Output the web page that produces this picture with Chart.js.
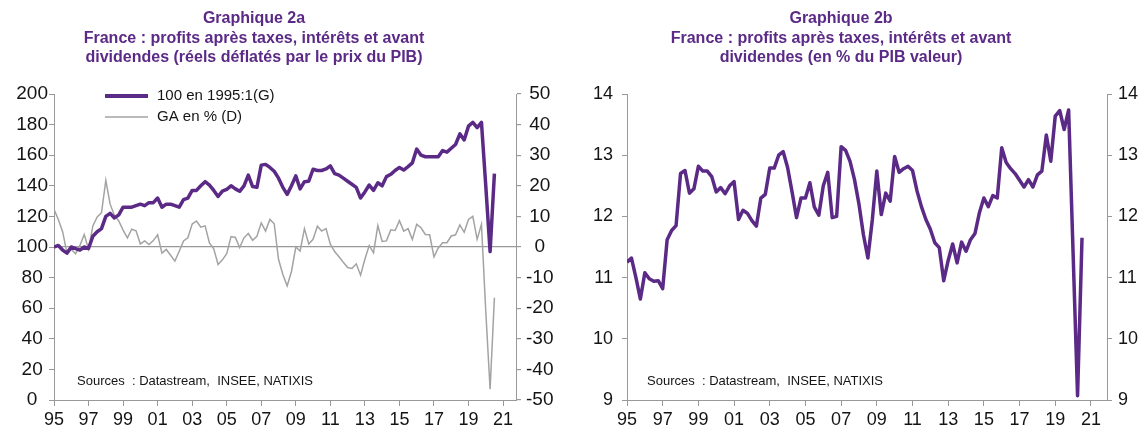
<!DOCTYPE html>
<html><head><meta charset="utf-8">
<script src="https://cdn.jsdelivr.net/npm/chart.js@4/dist/chart.umd.min.js"></script>
<style>
html,body{margin:0;padding:0;background:#fff;width:1141px;height:429px;overflow:hidden}
.box{position:absolute;top:0;height:429px}
</style></head><body>
<div class="box" style="left:0;width:570px"><canvas id="c1" width="570" height="429"></canvas></div>
<div class="box" style="left:570px;width:571px"><canvas id="c2" width="571" height="429"></canvas></div>
<script>
// ---- categories: quarters 1995:1 .. 2020:3
const quarterLabels = [];
for (let y = 1995; y <= 2020; y++) {
  for (let q = 1; q <= 4; q++) {
    if (y === 2020 && q === 4) break;
    quarterLabels.push(y + ':' + q);
  }
}
// ---- Graphique 2a : profits réels, indice 100 en 1995:1 (axe gauche)
const profitIndex = [
  100,101,98,96,100,99,98,100,99,107,
  110,112,120,122,119,121,126,126,126,127,
  128,127,129,129,132,126,128,128,127,126,
  131,132,137,137,140,142.7,140.5,137,133,136.5,
  137.7,140,138,136.4,140,147,139.5,139,153.5,154,
  152,149.5,145,139,134.4,140,146.5,138,142.7,143,
  150.8,150,150,151,153,148,147,145,143,141,
  139,132,136,140.5,137,142,140,146,147.5,150,
  152,150.3,152.5,155,164,160,159,159,159,159,
  163,162,164.5,167,174,170,179,181.5,178,181.5,
  140,97,148
];
// ---- Graphique 2a : glissement annuel en % (axe droit)
const profitGrowth = [
  12.3,9,5,-2,-0.8,-2.2,0.5,4.1,-0.7,6.9,
  9.8,11.2,21.8,14,10.3,8.5,5.5,3,5.8,5.3,
  1,2,0.8,2.1,4,-2,-0.8,-2.7,-4.6,-1.4,
  2,3,7.5,8.5,6.5,6.9,1.3,-0.6,-5.7,-4.2,
  -2.2,3.4,3.1,-0.2,3,4.4,2.2,3.5,7.9,5.2,
  9,7.6,-4,-9,-12.7,-8,0,-1.3,6,1,
  2.5,6.8,5.2,6,0.9,-1.5,-3.2,-5,-6.7,-7,
  -5.5,-9.2,-4,0.5,-1.9,7,1.8,2,5.6,5.4,
  8.6,5.2,6,2.5,7.4,6.3,4.1,4,-3.2,-0.3,
  1.4,1.4,3.6,4,7.2,4.8,9,10,2.5,7.4,
  -21,-46.5,-16.6
];
// ---- Graphique 2b : profits en % du PIB valeur
const profitShare = [
  11.25,11.32,11.0,10.65,11.08,10.98,10.94,10.95,10.82,11.62,
  11.77,11.85,12.70,12.75,12.38,12.45,12.82,12.74,12.74,12.65,
  12.40,12.47,12.37,12.5,12.57,11.95,12.1,12.05,11.93,11.84,
  12.3,12.36,12.79,12.79,13.0,13.06,12.8,12.4,11.98,12.3,
  12.3,12.55,12.15,12.02,12.5,12.72,11.98,12.0,13.14,13.08,
  12.9,12.6,12.2,11.7,11.32,11.95,12.74,12.03,12.38,12.25,
  12.98,12.72,12.78,12.82,12.75,12.42,12.16,11.95,11.79,11.57,
  11.49,10.95,11.28,11.55,11.24,11.58,11.43,11.62,11.72,12.06,
  12.3,12.16,12.34,12.30,13.12,12.88,12.78,12.70,12.59,12.48,
  12.6,12.48,12.68,12.74,13.33,12.9,13.64,13.73,13.42,13.74,
  11.4,9.07,11.65
];
// ---- tick labels
const xTickYears = [1995,1997,1999,2001,2003,2005,2007,2009,2011,2013,2015,2017,2019,2021];
const xTickLabels = ['95','97','99','01','03','05','07','09','11','13','15','17','19','21'];

const FONT = "'Liberation Sans', Arial, sans-serif";
const PURPLE = '#5b2a86';
const GRAY_LINE = '#a3a3a3';
const AXIS = '#999999';
const TXT = '#141414';

const toX = lbl => { const p = lbl.split(':').map(Number); return p[0] + (p[1] - 1) / 4; };
const pts = arr => arr.map((v, i) => ({ x: toX(quarterLabels[i]), y: v }));

const textPlugin = {
  id: 'texts',
  afterDraw(chart, args, opts) {
    const ctx = chart.ctx;
    ctx.save();
    (opts.lines || []).forEach(l => {
      ctx.strokeStyle = l.color; ctx.lineWidth = l.width; ctx.lineCap = 'butt';
      ctx.beginPath(); ctx.moveTo(l.x1, l.y); ctx.lineTo(l.x2, l.y); ctx.stroke();
    });
    (opts.items || []).forEach(t => {
      ctx.font = t.font; ctx.fillStyle = t.color;
      ctx.textAlign = t.align || 'left'; ctx.textBaseline = 'middle';
      ctx.fillText(t.text, t.x, t.y);
    });
    ctx.restore();
  }
};

function xScale(max) {
  return {
    type: 'linear', position: 'bottom', min: 1995, max: max,
    afterBuildTicks: s => { s.ticks = xTickYears.map(v => ({ value: v })); },
    afterFit: s => { s.height = 29; },
    ticks: { autoSkip: false, maxRotation: 0, minRotation: 0, padding: 3, color: TXT,
             font: { family: FONT, size: 18 },
             callback: (v, i) => xTickLabels[i] },
    grid: { display: true, drawOnChartArea: false, drawTicks: true, tickLength: 6, color: AXIS, tickColor: AXIS },
    border: { display: true, color: AXIS, width: 1 }
  };
}

function titleItems(cx, l1, l2, l3) {
  const f = "bold 16px " + FONT;
  return [
    { text: l1, x: cx, y: 19, font: f, color: PURPLE, align: 'center' },
    { text: l2, x: cx, y: 38.5, font: f, color: PURPLE, align: 'center' },
    { text: l3, x: cx, y: 58, font: f, color: PURPLE, align: 'center' }
  ];
}

// ---------------- Chart 2a
new Chart(document.getElementById('c1'), {
  type: 'line',
  data: {
    datasets: [
      { label: '100 en 1995:1(G)', data: pts(profitIndex), yAxisID: 'y', borderColor: PURPLE,
        borderWidth: 3.5, pointRadius: 0, tension: 0, borderJoinStyle: 'round', fill: false },
      { label: 'GA en % (D)', data: pts(profitGrowth), yAxisID: 'y2', borderColor: GRAY_LINE,
        borderWidth: 1.5, pointRadius: 0, tension: 0, fill: false }
    ]
  },
  options: {
    responsive: false, animation: false, devicePixelRatio: 1,
    layout: { padding: { top: 94, left: 0, right: 0, bottom: 0 } },
    plugins: {
      legend: { display: false }, title: { display: false }, tooltip: { enabled: false },
      texts: {
        items: titleItems(254, 'Graphique 2a',
          'France : profits après taxes, intérêts et avant',
          'dividendes (réels déflatés par le prix du PIB)').concat([
          { text: '100 en 1995:1(G)', x: 157, y: 96, font: '15px ' + FONT, color: TXT },
          { text: 'GA en % (D)', x: 157, y: 117, font: '15px ' + FONT, color: TXT },
          { text: 'Sources  : Datastream,  INSEE, NATIXIS', x: 77, y: 381, font: '13px ' + FONT, color: TXT }
        ]),
        lines: [
          { x1: 105, x2: 148, y: 96, color: PURPLE, width: 4 },
          { x1: 105, x2: 148, y: 117, color: GRAY_LINE, width: 1.5 }
        ]
      }
    },
    scales: {
      x: xScale(2021.75),
      y: {
        position: 'left', min: 0, max: 200,
        afterFit: s => { s.width = 54; },
        ticks: { stepSize: 20, crossAlign: 'center', padding: 1, color: TXT, font: { family: FONT, size: 19 } },
        grid: { drawOnChartArea: false, drawTicks: true, tickLength: 5, color: AXIS, tickColor: AXIS },
        border: { display: true, color: AXIS, width: 1 }
      },
      y2: {
        position: 'right', min: -50, max: 50,
        afterFit: s => { s.width = 54; },
        ticks: { stepSize: 10, crossAlign: 'center', padding: 5, color: TXT, font: { family: FONT, size: 19 } },
        grid: { drawOnChartArea: true, drawTicks: true, tickLength: 5,
                color: c => (c.tick && c.tick.value === 0) ? AXIS : 'rgba(0,0,0,0)', tickColor: AXIS, lineWidth: 1.2 },
        border: { display: true, color: AXIS, width: 1 }
      }
    }
  },
  plugins: [textPlugin]
});

// ---------------- Chart 2b
new Chart(document.getElementById('c2'), {
  type: 'line',
  data: {
    datasets: [
      { label: '% du PIB', data: pts(profitShare), yAxisID: 'y', borderColor: PURPLE,
        borderWidth: 3.5, pointRadius: 0, tension: 0, borderJoinStyle: 'round', fill: false }
    ]
  },
  options: {
    responsive: false, animation: false, devicePixelRatio: 1,
    layout: { padding: { top: 94, left: 0, right: 0, bottom: 0 } },
    plugins: {
      legend: { display: false }, title: { display: false }, tooltip: { enabled: false },
      texts: {
        items: titleItems(271, 'Graphique 2b',
          'France : profits après taxes, intérêts et avant',
          'dividendes (en % du PIB valeur)').concat([
          { text: 'Sources  : Datastream,  INSEE, NATIXIS', x: 77, y: 381, font: '13px ' + FONT, color: TXT }
        ])
      }
    },
    scales: {
      x: xScale(2021.9),
      y: {
        position: 'left', min: 9, max: 14,
        afterFit: s => { s.width = 57; },
        ticks: { stepSize: 1, padding: 9, color: TXT, font: { family: FONT, size: 18 } },
        grid: { drawOnChartArea: false, drawTicks: true, tickLength: 5, color: AXIS, tickColor: AXIS },
        border: { display: true, color: AXIS, width: 1 }
      },
      y2: {
        position: 'right', min: 9, max: 14,
        afterFit: s => { s.width = 34; },
        ticks: { stepSize: 1, padding: 6, color: TXT, font: { family: FONT, size: 18 } },
        grid: { drawOnChartArea: false, drawTicks: true, tickLength: 5, color: AXIS, tickColor: AXIS },
        border: { display: true, color: AXIS, width: 1 }
      }
    }
  },
  plugins: [textPlugin]
});
</script>
</body></html>
